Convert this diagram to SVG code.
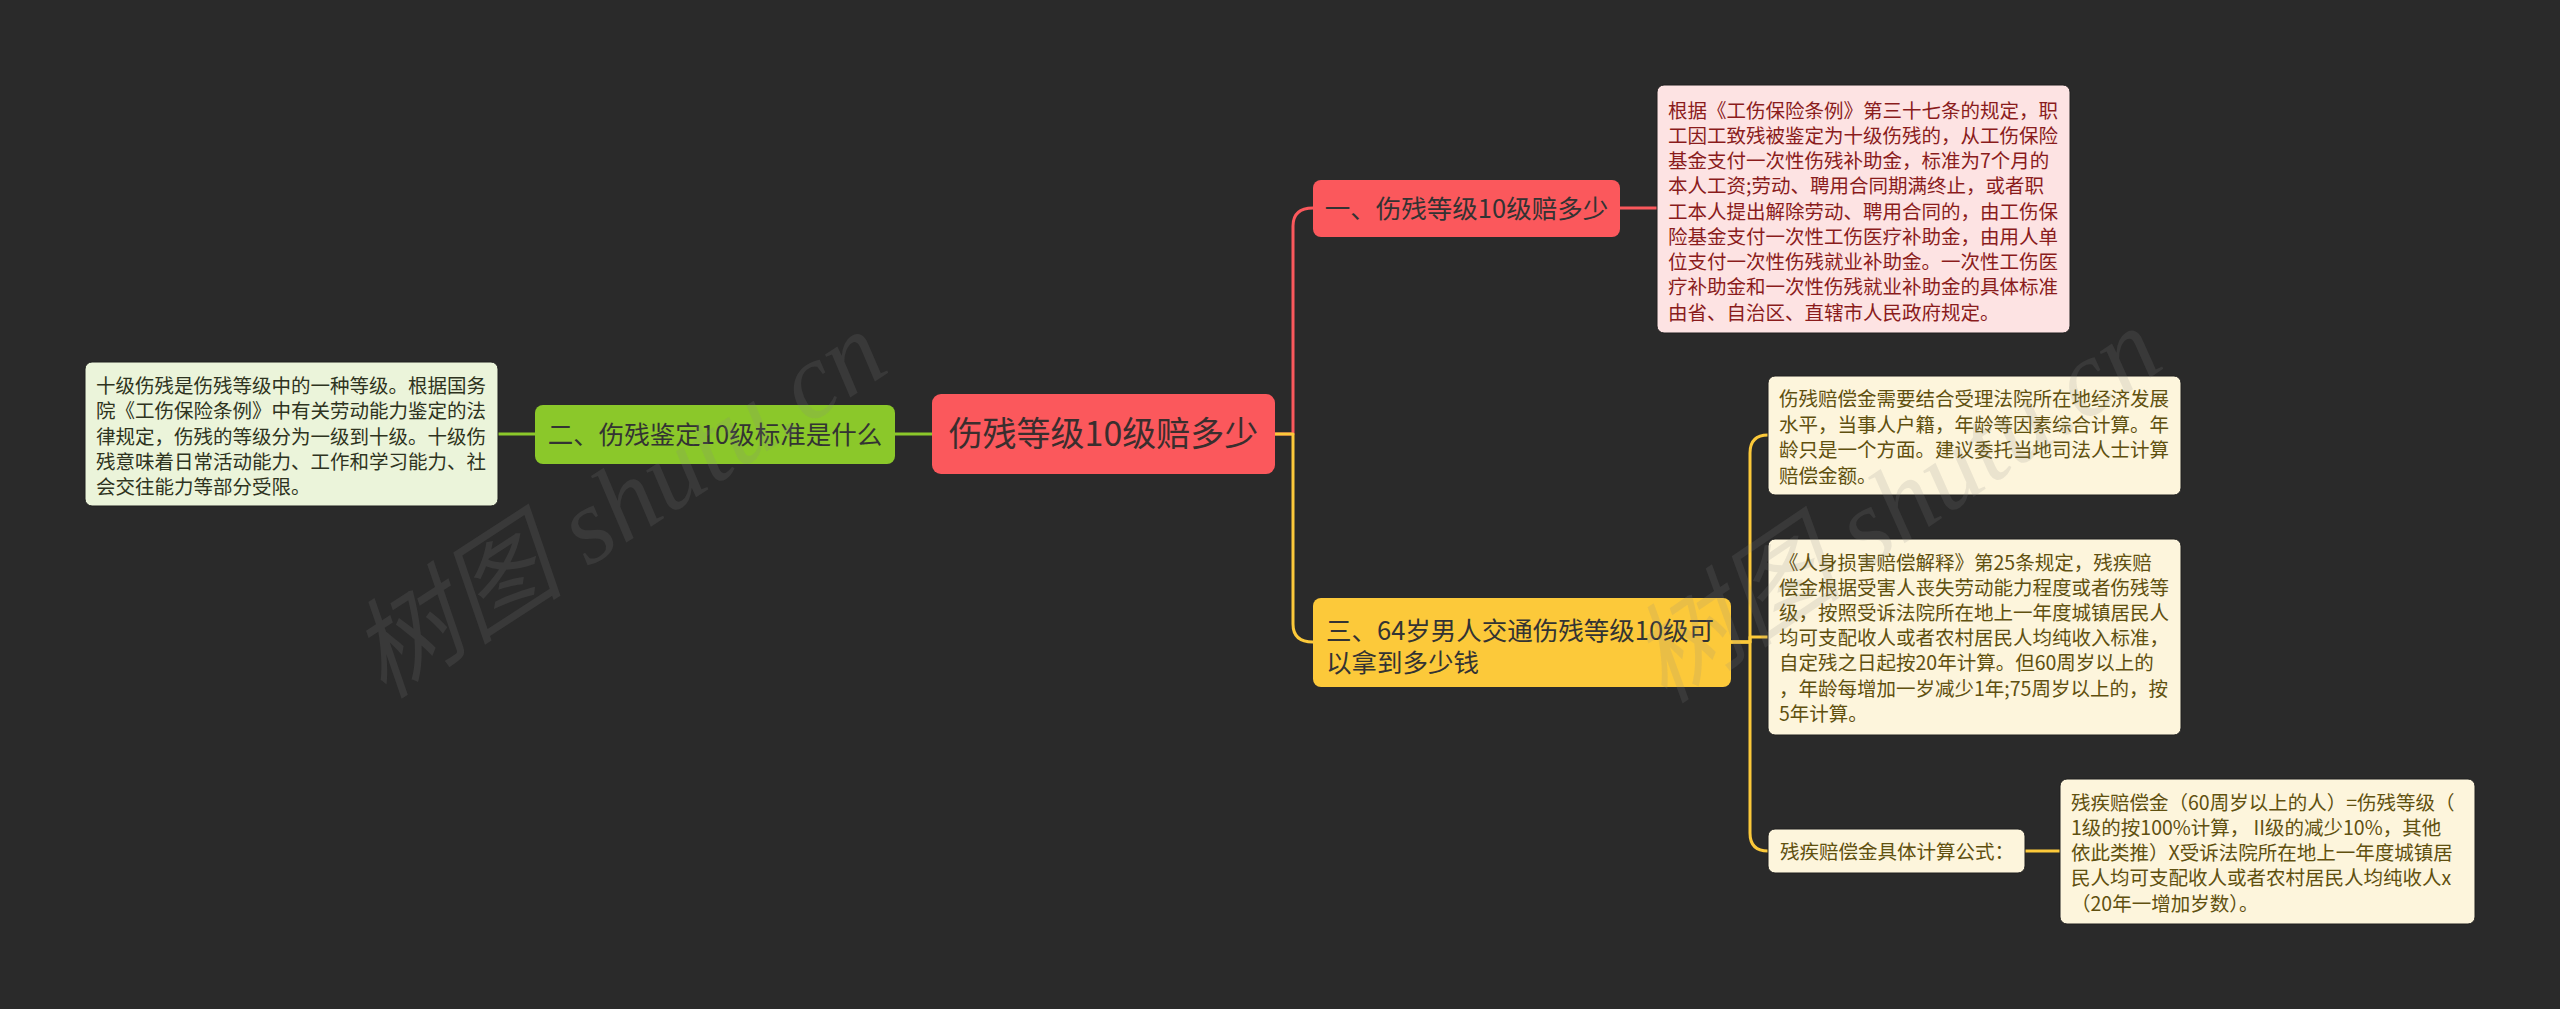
<svg xmlns="http://www.w3.org/2000/svg" width="2560" height="1009" viewBox="0 0 2560 1009">
<style>
text{font-family:"Noto Sans CJK SC","Noto Sans",sans-serif;}
.root{font-size:34px;fill:#3a2e2e;}
.sub{font-size:25.5px;fill:#333333;}
.leaf{font-size:19.5px;}
.lr{fill:#8a1c1c;}
.lg{fill:#2e3320;}
.ly{fill:#60500f;}
.cn{fill:none;stroke-width:3;stroke-linecap:round;stroke-linejoin:round;}
.wm{font-size:108px;font-style:italic;fill:#8a8a8a;fill-opacity:0.16;font-family:"Liberation Serif","Noto Sans CJK SC",serif;}
</style>
<rect x="0" y="0" width="2560" height="1009" fill="#2a2a2a"/>
<g id="connectors">
<path class="cn" stroke="#8bc82a" d="M932,434 H895"/>
<path class="cn" stroke="#8bc82a" d="M535,434 H498"/>
<path class="cn" stroke="#fb585c" d="M1275,434 H1293 V226 Q1293,208 1313,208"/>
<path class="cn" stroke="#fcc93a" d="M1275,434 H1293 V624 Q1293,642 1313,642"/>
<path class="cn" stroke="#fb585c" d="M1620,208 H1657"/>
<path class="cn" stroke="#fcc93a" d="M1731,642 H1750 V453 Q1750,435 1768,435"/>
<path class="cn" stroke="#fcc93a" d="M1731,642 H1750 V637 H1768"/>
<path class="cn" stroke="#fcc93a" d="M1731,642 H1750 V833 Q1750,851 1768,851"/>
<path class="cn" stroke="#fcc93a" d="M2025,851 H2060"/>
</g>
<g id="root">
<rect x="932" y="394" width="343" height="80" rx="9" fill="#fb585c"/>
<text class="root" x="1103.5" y="446" text-anchor="middle">伤残等级10级赔多少</text>
</g>
<g id="branch-green">
<rect x="535" y="405" width="360" height="59" rx="8" fill="#8bc82a"/>
<text class="sub" x="715" y="444" text-anchor="middle">二、伤残鉴定10级标准是什么</text>
</g>
<g id="leaf-green">
<rect x="85" y="362" width="413" height="144" rx="7" fill="#ebf4da" stroke="#1e1e1e" stroke-width="1"/>
<text class="leaf lg" x="96" y="393">十级伤残是伤残等级中的一种等级。根据国务</text>
<text class="leaf lg" x="96" y="418">院《工伤保险条例》中有关劳动能力鉴定的法</text>
<text class="leaf lg" x="96" y="443.5">律规定，伤残的等级分为一级到十级。十级伤</text>
<text class="leaf lg" x="96" y="469">残意味着日常活动能力、工作和学习能力、社</text>
<text class="leaf lg" x="96" y="494">会交往能力等部分受限。</text>
</g>
<g id="branch-red">
<rect x="1313" y="180" width="307" height="57" rx="8" fill="#fb585c"/>
<text class="sub" x="1466.5" y="218" text-anchor="middle">一、伤残等级10级赔多少</text>
</g>
<g id="leaf-red">
<rect x="1657" y="85" width="413" height="248" rx="7" fill="#fde3e3" stroke="#1e1e1e" stroke-width="1"/>
<text class="leaf lr" x="1668" y="117.5">根据《工伤保险条例》第三十七条的规定，职</text>
<text class="leaf lr" x="1668" y="142.8">工因工致残被鉴定为十级伤残的，从工伤保险</text>
<text class="leaf lr" x="1668" y="168">基金支付一次性伤残补助金，标准为7个月的</text>
<text class="leaf lr" x="1668" y="193.3">本人工资;劳动、聘用合同期满终止，或者职</text>
<text class="leaf lr" x="1668" y="218.5">工本人提出解除劳动、聘用合同的，由工伤保</text>
<text class="leaf lr" x="1668" y="243.8">险基金支付一次性工伤医疗补助金，由用人单</text>
<text class="leaf lr" x="1668" y="269">位支付一次性伤残就业补助金。一次性工伤医</text>
<text class="leaf lr" x="1668" y="294.3">疗补助金和一次性伤残就业补助金的具体标准</text>
<text class="leaf lr" x="1668" y="319.5">由省、自治区、直辖市人民政府规定。</text>
</g>
<g id="branch-yellow">
<rect x="1313" y="598" width="418" height="89" rx="8" fill="#fcc93a"/>
<text class="sub" x="1326" y="639.5">三、64岁男人交通伤残等级10级可</text>
<text class="sub" x="1326" y="671.5">以拿到多少钱</text>
</g>
<g id="leaf-yellow-1">
<rect x="1768" y="376" width="413" height="119" rx="7" fill="#fdf5dc" stroke="#1e1e1e" stroke-width="1"/>
<text class="leaf ly" x="1779" y="406">伤残赔偿金需要结合受理法院所在地经济发展</text>
<text class="leaf ly" x="1779" y="431.5">水平，当事人户籍，年龄等因素综合计算。年</text>
<text class="leaf ly" x="1779" y="457">龄只是一个方面。建议委托当地司法人士计算</text>
<text class="leaf ly" x="1779" y="482.5">赔偿金额。</text>
</g>
<g id="leaf-yellow-2">
<rect x="1768" y="539" width="413" height="196" rx="7" fill="#fdf5dc" stroke="#1e1e1e" stroke-width="1"/>
<text class="leaf ly" x="1779" y="570">《人身损害赔偿解释》第25条规定，残疾赔</text>
<text class="leaf ly" x="1779" y="595.1">偿金根据受害人丧失劳动能力程度或者伤残等</text>
<text class="leaf ly" x="1779" y="620.2">级，按照受诉法院所在地上一年度城镇居民人</text>
<text class="leaf ly" x="1779" y="645.3">均可支配收人或者农村居民人均纯收入标准，</text>
<text class="leaf ly" x="1779" y="670.4">自定残之日起按20年计算。但60周岁以上的</text>
<text class="leaf ly" x="1779" y="695.5">，年龄每增加一岁减少1年;75周岁以上的，按</text>
<text class="leaf ly" x="1779" y="720.6">5年计算。</text>
</g>
<g id="leaf-yellow-3">
<rect x="1768" y="829" width="257" height="44" rx="7" fill="#fdf5dc" stroke="#1e1e1e" stroke-width="1"/>
<text class="leaf ly" x="1780" y="858.5">残疾赔偿金具体计算公式：</text>
</g>
<g id="leaf-yellow-4">
<rect x="2060" y="779" width="415" height="145" rx="7" fill="#fdf5dc" stroke="#1e1e1e" stroke-width="1"/>
<text class="leaf ly" x="2071" y="809.5">残疾赔偿金（60周岁以上的人）=伤残等级（</text>
<text class="leaf ly" x="2071" y="834.8">1级的按100%计算， II级的减少10%，其他</text>
<text class="leaf ly" x="2071" y="860">依此类推）X受诉法院所在地上一年度城镇居</text>
<text class="leaf ly" x="2071" y="885.3">民人均可支配收人或者农村居民人均纯收人x</text>
<text class="leaf ly" x="2071" y="910.5">（20年一增加岁数）。</text>
</g>
<g id="watermark">
<text class="wm" x="384" y="700" transform="rotate(-33 384 700)">树图 shutu.cn</text>
<text class="wm" x="1665" y="705" transform="rotate(-34 1665 705)">树图 shutu.cn</text>
</g>
</svg>
